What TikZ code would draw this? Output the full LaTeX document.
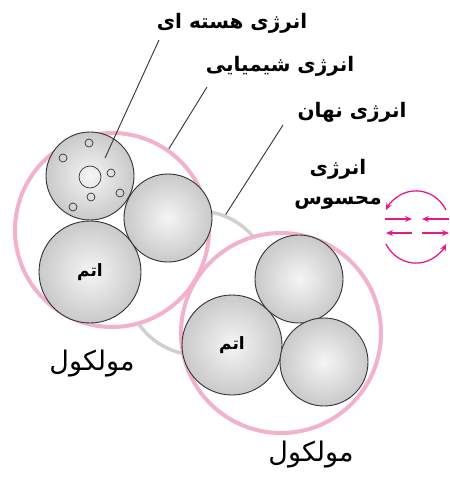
\documentclass[tikz,border=0pt]{standalone}
\usepackage{fontspec}
\usepackage{tikz}
\usetikzlibrary{arrows.meta}
\TeXXeTstate=1
\newfontfamily\arabicfont[Script=Arabic]{DejaVu Sans}
\definecolor{molpink}{RGB}{242,178,205}
\definecolor{bondgray}{RGB}{208,208,208}
\definecolor{heatmag}{RGB}{230,25,140}

\begin{document}
\begin{tikzpicture}[x=1pt, y=-1pt,
    atom/.style={circle, draw=black!80, line width=0.9pt, shading=radial,
        inner color=gray!8, outer color=gray!42, inner sep=0pt,
        font=\arabicfont\bfseries\fontsize{17}{20}\selectfont},
    molecule/.style={circle, draw=molpink, fill=white, line width=4pt, inner sep=0pt},
    bondring/.style={circle, draw=bondgray, line width=3.5pt, inner sep=0pt},
    orbit/.style={circle, draw=black!80, line width=0.7pt, inner sep=0pt, minimum size=8pt},
    lbl/.style={font=\arabicfont\bfseries\fontsize{20}{24}\selectfont, inner sep=0pt},
    molname/.style={font=\arabicfont\fontsize{27}{30}\selectfont, inner sep=0pt},
    leader/.style={black!80, line width=0.9pt},
    heat/.style={heatmag, line width=1.3pt, -{Stealth[length=7pt, width=6pt]}}]
    \useasboundingbox (0,0) rectangle (449,478);

    % bond between the two molecules, behind everything
    \node[bondring, minimum size=144pt] (ring) at (198,283) {};

    % molecules
    \node[molecule, minimum size=194pt] (mol1) at (112,230) {};
    \node[molecule, minimum size=200pt] (mol2) at (281,333) {};

    % atoms of the first molecule
    \node[atom, minimum size=88pt] (nuc) at (90,176) {};
    \node[atom, minimum size=88pt] (a2) at (168,218) {};
    \node[atom, minimum size=102pt] (a3) at (90,272) {\beginR اتم\endR};

    % atoms of the second molecule
    \node[atom, minimum size=88pt] (b1) at (299,279) {};
    \node[atom, minimum size=100pt] (b2) at (232,345) {\beginR اتم\endR};
    \node[atom, minimum size=88pt] (b3) at (324,362) {};

    % nucleus and electrons
    \node[orbit, minimum size=22pt] (core) at (90,177) {};
    \foreach \ex/\ey [count=\i] in {89/143, 63/158, 111/173, 91/197, 120/193, 73/207}
        \node[orbit] (e\i) at (\ex,\ey) {};

    % labels with their leaders
    \node[lbl] (nuclear) at (232,23) {\beginR انرژی هسته ای\endR};
    \node[lbl] (chemical) at (280,66) {\beginR انرژی شیمیایی\endR};
    \node[lbl] (latent) at (352,112) {\beginR انرژی نهان\endR};
    \node[lbl, align=center] (sensible) at (338,184)
        {\beginR انرژی\endR\\[6pt]\beginR محسوس\endR};
    \coordinate (nucleartip) at (159,40);
    \coordinate (chemicaltip) at (207,87);
    \coordinate (latenttip) at (283,125);
    \coordinate (nucleusend) at (105,158);
    \draw[leader] (nucleartip) -- (nucleusend);
    \draw[leader] (chemicaltip) -- (mol1.55);
    \draw[leader] (latenttip) -- (ring.68);

    \node[molname] (molname1) at (92,364) {\beginR مولکول\endR};
    \node[molname] (molname2) at (311,455) {\beginR مولکول\endR};

    % sensible heat arrows
    \coordinate (hc) at (416,227);
    \draw[heat] ([shift={(30,-17)}]hc) arc[start angle=-28, end angle=-152, x radius=34, y radius=36];
    \draw[heat] ([shift={(-30,17)}]hc) arc[start angle=152, end angle=28, x radius=34, y radius=36];
    \coordinate (r1l) at (385,219); \coordinate (r1m) at (412,219);
    \coordinate (r1n) at (422,219); \coordinate (r1r) at (449,219);
    \coordinate (r2l) at (386,233); \coordinate (r2m) at (412,233);
    \coordinate (r2n) at (422,233); \coordinate (r2r) at (449,233);
    \draw[heat] (r1l) -- (r1m);
    \draw[heat] (r1r) -- (r1n);
    \draw[heat] (r2m) -- (r2l);
    \draw[heat] (r2n) -- (r2r);
\end{tikzpicture}
\end{document}
